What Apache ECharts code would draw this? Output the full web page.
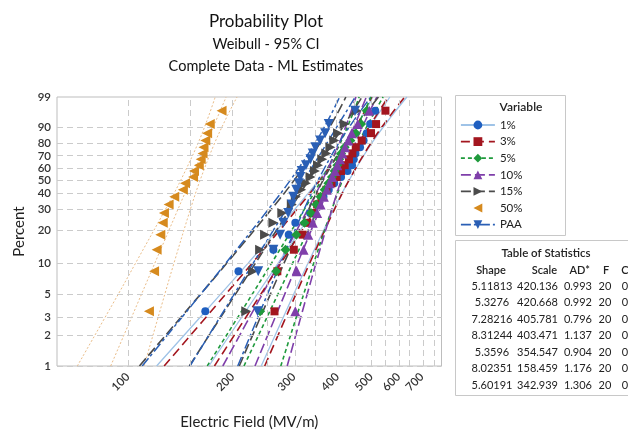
<!DOCTYPE html>
<html><head><meta charset="utf-8">
<script src="https://cdn.jsdelivr.net/npm/echarts@6/dist/echarts.min.js"></script>
<style>html,body{margin:0;padding:0;background:#fff;}#c{width:628px;height:435px;}</style>
</head><body><div id="c"></div>
<script>
// ---------- data ----------
const variables = ['1%', '3%', '5%', '10%', '15%', '50%', 'PAA'];
const rankPercent = [3.43, 8.33, 13.24, 18.14, 23.04, 27.94, 32.84, 37.75, 42.65, 47.55, 52.45, 57.35, 62.25, 67.16, 72.06, 76.96, 81.86, 86.76, 91.67, 96.57];

const field1   = [167, 208, 262, 290, 303, 334, 352, 365, 378, 392, 410, 428, 441, 446, 451, 465, 476, 486, 497, 514];
const field3   = [264, 269, 300, 318, 328, 340, 350, 360, 372, 385, 398, 410, 420, 432, 442, 452, 470, 500, 517, 550];
const field5   = [240, 267, 284, 305, 322, 336, 348, 358, 368, 377, 386, 393, 400, 405, 410, 420, 436, 452, 468, 486];
const field10  = [303, 306, 320, 330, 340, 350, 358, 366, 373, 380, 387, 394, 400, 407, 414, 421, 430, 440, 458, 494];
const field15  = [219, 229, 240, 248, 262, 278, 296, 304, 315, 325, 335, 345, 352, 362, 372, 382, 392, 402, 420, 455];
const field50  = [115, 119, 121, 124, 126, 127, 131, 136, 144, 146, 154, 155, 160, 162, 164, 165, 167, 169, 172, 186];
const fieldPAA = [236, 237, 262, 274, 280, 289, 296, 299, 305, 310, 313, 316, 325, 335, 340, 346, 357, 369, 378, 450];

const fitPercent = [1, 99];
const fit1 = [171.0, 566.3];
const fit3 = [177.4, 560.3];
const fit5 = [215.7, 500.5];
const fit10 = [232.0, 484.8];
const fit15 = [150.3, 471.4];
const fit50 = [89.3, 191.7];
const fitPAA = [150.9, 450.4];

const ciPercent = [1, 5, 10, 30, 50, 80, 95, 99];
const lower1 = [121.0, 184.6, 222.1, 301.8, 353.8, 423.2, 472.5, 505.7];
const upper1 = [241.8, 299.6, 329.9, 391.0, 432.5, 502.3, 573.5, 633.9];
const lower3 = [127.2, 190.9, 228.0, 306.2, 356.6, 423.6, 471.0, 502.7];
const upper3 = [247.4, 304.0, 333.5, 392.6, 432.4, 499.4, 567.2, 624.6];
const lower5 = [169.2, 227.6, 259.2, 321.6, 359.6, 407.9, 440.7, 462.3];
const upper5 = [275.2, 320.0, 342.4, 385.8, 414.1, 460.1, 504.9, 541.7];
const lower10 = [187.5, 243.2, 272.5, 329.1, 362.8, 405.3, 433.8, 452.3];
const upper10 = [287.1, 327.6, 347.7, 386.0, 410.7, 450.5, 488.6, 519.7];
const lower15 = [108.0, 161.6, 192.9, 258.5, 300.8, 356.9, 396.7, 423.2];
const upper15 = [209.1, 256.7, 281.4, 331.1, 364.3, 420.5, 477.2, 525.1];
const lower50 = [71.6, 93.8, 105.4, 128.3, 142.0, 159.2, 170.8, 178.3];
const upper50 = [111.4, 127.7, 135.8, 151.3, 161.4, 177.6, 193.2, 206.0];
const lowerPAA = [110.0, 161.8, 191.6, 253.5, 293.2, 345.3, 381.9, 406.2];
const upperPAA = [207.0, 251.8, 275.0, 321.2, 352.2, 403.8, 455.7, 499.4];

const yTickPercents = [1, 2, 3, 5, 10, 20, 30, 40, 50, 60, 70, 80, 90, 99];
const xTickLabels = [100, 200, 300, 400, 500, 600, 700];
const xGridValues = [100, 150, 200, 250, 300, 350, 400, 450, 500, 550, 600, 650, 700, 750];
const xRange = [62.6, 797];

const shapeVals = ['5.11813', '5.3276', '7.28216', '8.31244', '5.3596', '8.02351', '5.60191'];
const scaleVals = ['420.136', '420.668', '405.781', '403.471', '354.547', '158.459', '342.939'];
const adVals = ['0.993', '0.992', '0.796', '1.137', '0.904', '1.176', '1.306'];
const fVals = ['20', '20', '20', '20', '20', '20', '20'];
const cVals = ['0', '0', '0', '0', '0', '0', '0'];

// ---------- styles ----------
const pointSets = [field1, field3, field5, field10, field15, field50, fieldPAA];
const fitSets = [fit1, fit3, fit5, fit10, fit15, fit50, fitPAA];
const lowerSets = [lower1, lower3, lower5, lower10, lower15, lower50, lowerPAA];
const upperSets = [upper1, upper3, upper5, upper10, upper15, upper50, upperPAA];
const styles = [
  {color:'#1f5fc0', line:'#9fc3e7', dash:'solid', width:1.3, symbol:'circle', size:8, rotate:0},
  {color:'#a3161f', line:'#a3161f', dash:[9,5], width:1.6, symbol:'rect', size:8, rotate:0},
  {color:'#1f9a3c', line:'#1f9a3c', dash:[4,3], width:1.6, symbol:'diamond', size:10, rotate:0},
  {color:'#7f3faa', line:'#7f3faa', dash:[10,4], width:1.6, symbol:'triangle', size:10, rotate:0},
  {color:'#4b4b4b', line:'#4b4b4b', dash:[10,4], width:1.6, symbol:'triangle', size:10, rotate:-90},
  {color:'#d68a1e', line:'#e6b47a', dash:[2,2], width:0.9, symbol:'triangle', size:10, rotate:90},
  {color:'#2a5fb5', line:'#2a5fb5', dash:[10,3,3,3], width:1.5, symbol:'triangle', size:10, rotate:180}
];

const toX = v => Math.log10(v);
const toY = p => Math.log(-Math.log(1 - p / 100));
const fromY = w => 100 * (1 - Math.exp(-Math.exp(w)));
const FONT = 'Lato';

const series = [];
// gridlines
series.push({
  type:'line', name:'_grid', data:[[2, 0]], symbol:'none', lineStyle:{opacity:0}, silent:true, z:1,
  markLine:{
    silent:true, symbol:['none','none'], label:{show:false}, animation:false,
    lineStyle:{color:'#cbcbcb', type:[6,4], width:1},
    data: xGridValues.map(v => ({xAxis: toX(v)})).concat(yTickPercents.map(p => ({yAxis: toY(p)})))
  }
});
variables.forEach((name, i) => {
  const s = styles[i];
  series.push({
    type:'line', name, data: pointSets[i].map((v,k)=>[toX(v), toY(rankPercent[k])]),
    symbol:s.symbol, symbolSize:s.size, symbolRotate:s.rotate, showSymbol:true,
    itemStyle:{color:s.color}, lineStyle:{opacity:0, width:0}, z:5, silent:true
  });
});
variables.forEach((name, i) => {
  const s = styles[i];
  const ls = {color:s.line, type:s.dash, width:s.width};
  [lowerSets[i], upperSets[i]].forEach(arr => series.push({
    type:'line', name, data: arr.map((v,k)=>[toX(v), toY(ciPercent[k])]),
    symbol:'none', smooth:0.35, lineStyle:ls, z:2, silent:true
  }));
  series.push({
    type:'line', name, data: fitSets[i].map((v,k)=>[toX(v), toY(fitPercent[k])]),
    symbol:'none', lineStyle:ls, z:3, silent:true
  });
});

const graphics = [];
graphics.push({type:'rect', shape:{x:455.5, y:95.5, width:110, height:140}, style:{fill:'#fff', stroke:'#c8c8c8', lineWidth:1}, z:0});
graphics.push({type:'text', x:521, y:107, style:{text:'Variable', font:'600 12px ' + FONT, fill:'#222', textAlign:'center', textVerticalAlign:'middle'}, z:10});
graphics.push({type:'rect', shape:{x:455.5, y:240.5, width:200, height:155}, style:{fill:'#fff', stroke:'#c8c8c8', lineWidth:1}, z:0});
graphics.push({type:'text', x:546, y:253, style:{text:'Table of Statistics', font:'600 11.5px ' + FONT, fill:'#222', textAlign:'center', textVerticalAlign:'middle'}, z:10});
const headers = [['Shape', 491, 'center'], ['Scale', 557, 'right'], ['AD*', 590, 'right'], ['F', 606, 'center'], ['C', 625, 'center']];
headers.forEach(h => graphics.push({type:'text', x:h[1], y:270, style:{text:h[0], font:'600 11px ' + FONT, fill:'#222', textAlign:h[2], textVerticalAlign:'middle'}, z:10}));
const cols = [[shapeVals, 492, 'center'], [scaleVals, 558, 'right'], [adVals, 592, 'right'], [fVals, 605, 'center'], [cVals, 625, 'center']];
cols.forEach(c => c[0].forEach((t, r) => graphics.push({type:'text', x:c[1], y:286 + r * 16.5, style:{text:t, font:'11px ' + FONT, fill:'#222', textAlign:c[2], textVerticalAlign:'middle'}, z:10})));

const option = {
  animation:false,
  backgroundColor:'#fff',
  textStyle:{fontFamily:FONT},
  title:[
    {text:'Probability Plot', left:266, top:13, padding:0, textAlign:'center', textStyle:{fontSize:17, fontWeight:'normal', color:'#111', fontFamily:FONT}},
    {text:'Weibull - 95% CI', left:266, top:37, padding:0, textAlign:'center', textStyle:{fontSize:14.5, fontWeight:'normal', color:'#111', fontFamily:FONT}},
    {text:'Complete Data - ML Estimates', left:266, top:59, padding:0, textAlign:'center', textStyle:{fontSize:14.5, fontWeight:'normal', color:'#111', fontFamily:FONT}}
  ],
  legend:{
    orient:'vertical', left:455, top:114, itemWidth:34, itemHeight:11, itemGap:4.6,
    textStyle:{fontSize:11.5, color:'#222', fontFamily:FONT},
    data: variables.map((n, i) => ({
      name:n, itemStyle:{color:styles[i].color},
      lineStyle:{color:styles[i].line, type:styles[i].dash, width: i === 5 ? 0 : Math.max(styles[i].width, 1.8), opacity: i === 5 ? 0 : 1}
    }))
  },
  grid:{left:57, top:97, width:384.5, height:273, show:true, borderColor:'#bdbdbd', borderWidth:1, backgroundColor:'#fff', containLabel:false},
  xAxis:{
    type:'value', min:toX(xRange[0]), max:toX(xRange[1]),
    axisLine:{show:false}, axisTick:{show:false}, splitLine:{show:false},
    axisLabel:{customValues: xTickLabels.map(toX), formatter: v => String(Math.round(Math.pow(10, v))), rotate:45, margin:9, fontSize:11.5, fontWeight:600, color:'#333', fontFamily:FONT},
    name:'Electric Field (MV/m)', nameLocation:'middle', nameGap:49,
    nameTextStyle:{fontSize:15, color:'#222', fontFamily:FONT}
  },
  yAxis:{
    type:'value', min:toY(1), max:toY(99),
    axisLine:{show:false}, axisTick:{show:false}, splitLine:{show:false},
    axisLabel:{customValues: yTickPercents.map(toY), formatter: v => String(Math.round(fromY(v))), margin:6, fontSize:11.5, fontWeight:600, color:'#333', fontFamily:FONT},
    name:'Percent', nameLocation:'middle', nameGap:28,
    nameTextStyle:{fontSize:15, color:'#222', fontFamily:FONT}
  },
  graphic: graphics,
  series: series
};
const chart = echarts.init(document.getElementById('c'), null, {renderer:'canvas'});
chart.setOption(option);
</script></body></html>
